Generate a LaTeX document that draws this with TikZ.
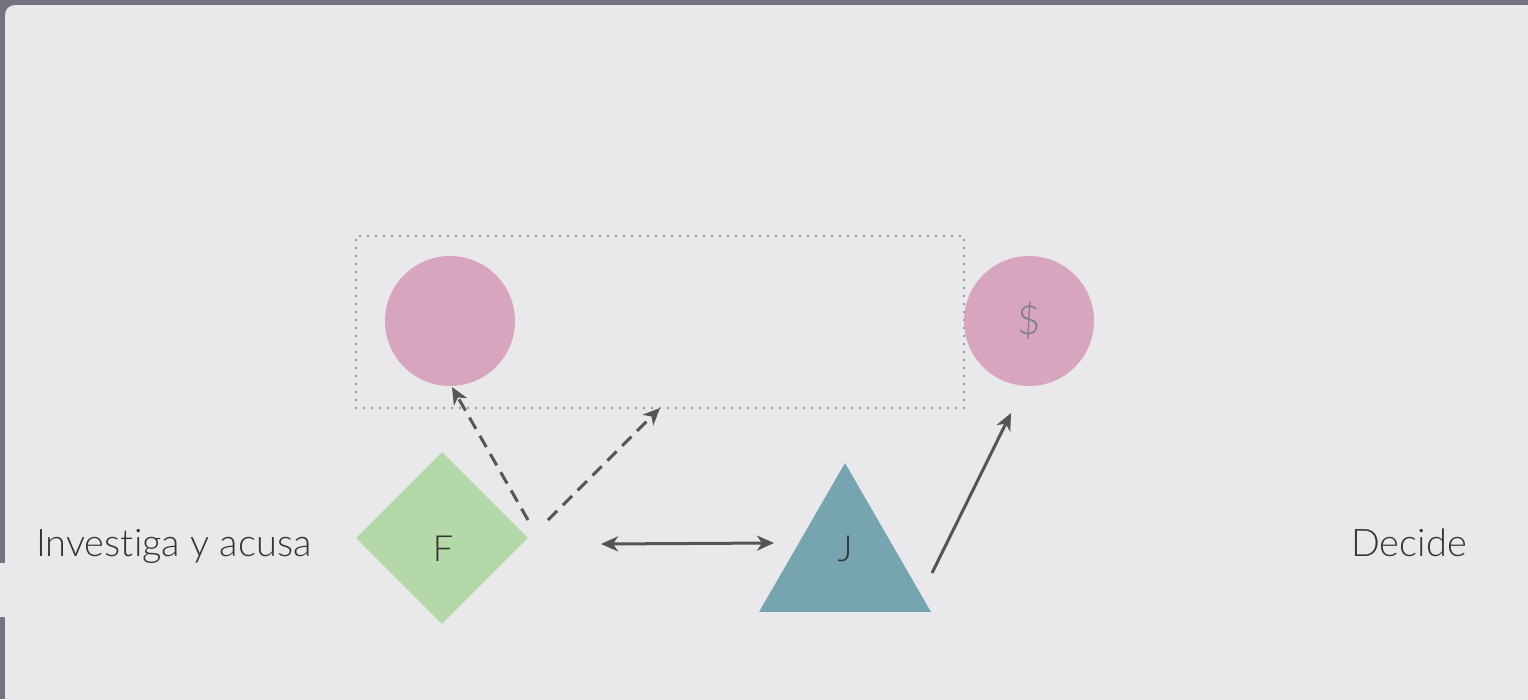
\documentclass[tikz,border=0pt]{standalone}
\usepackage{fontspec}
\IfFontExistsTF{Lato Light}{\setmainfont{Lato Light}[Ligatures=NoCommon]}{\setmainfont{Lato}}
\usetikzlibrary{shapes.geometric,arrows.meta}
\definecolor{frame}{HTML}{77727F}
\definecolor{bg}{HTML}{E9E9EB}
\definecolor{pinkc}{HTML}{D7A5BD}
\definecolor{greenc}{HTML}{B5D8A8}
\definecolor{tealc}{HTML}{76A5B0}
\definecolor{arrowc}{HTML}{555555}
\definecolor{txt}{HTML}{333333}
\definecolor{dotc}{HTML}{7E7C8C}
\tikzset{
  circ/.style={circle,fill=pinkc,minimum size=130pt,inner sep=0pt},
  conn/.style={draw=arrowc,line width=3pt,-{Stealth[length=17pt,width=15pt,inset=5pt]}},
  dconn/.style={conn,dash pattern=on 13pt off 8pt},
  lbl/.style={text=txt,inner sep=0pt,anchor=base},
}
\begin{document}
\begin{tikzpicture}[x=1pt,y=-1pt]
\useasboundingbox (0,0) rectangle (1528,699);
\fill[frame] (0,0) rectangle (1528,699);
\fill[bg,rounded corners=10pt] (5,5) rectangle (1540,712);
\fill[bg,rounded corners=3pt] (-5,563) rectangle (10,617);
% dotted box
\node[draw=dotc,line width=2.4pt,dash pattern=on 0pt off 8pt,line cap=round,
  minimum width=608pt,minimum height=172pt,inner sep=0pt] (box) at (660,322) {};
% circles
\node[circ] (c1) at (450,321) {};
\node[circ] (c2) at (1029,321) {};
\node[text=dotc,font=\fontsize{40}{40}\selectfont] (dollar) at (1029,321) {\$};
% diamond
\node[diamond,fill=greenc,minimum width=172pt,minimum height=172pt,inner sep=0pt,aspect=1] (f) at (442,538) {};
\node[lbl,font=\fontsize{36}{36}\selectfont] (fl) at (443,561) {F};
% triangle
\node[regular polygon,regular polygon sides=3,fill=tealc,minimum size=198.6pt,inner sep=0pt] (j) at (845,562.3) {};
\node[lbl,font=\fontsize{36}{36}\selectfont] (jl) at (845,561) {J};
% texts
\node[lbl,font=\fontsize{38}{38}\selectfont,anchor=base west] (inv) at (36,556) {Investiga y acusa};
\node[lbl,font=\fontsize{38}{38}\selectfont,anchor=base] (dec) at (1409,556) {Decide};
% connectors
\coordinate (d1s) at (528,520);
\coordinate (d2s) at (548,520);
\coordinate (d1e) at (452,387);
\coordinate (d2e) at (660,408);
\draw[dconn] (d1s) -- (d1e);
\draw[dconn] (d2s) -- (d2e);
\coordinate (ha) at (601,544);
\coordinate (hb) at (774,543);
\draw[conn,{Stealth[length=17pt,width=15pt,inset=5pt]}-{Stealth[length=17pt,width=15pt,inset=5pt]}] (ha) -- (hb);
\coordinate (ss) at (932,573);
\coordinate (se) at (1011,413);
\draw[conn] (ss) -- (se);
\end{tikzpicture}
\end{document}
